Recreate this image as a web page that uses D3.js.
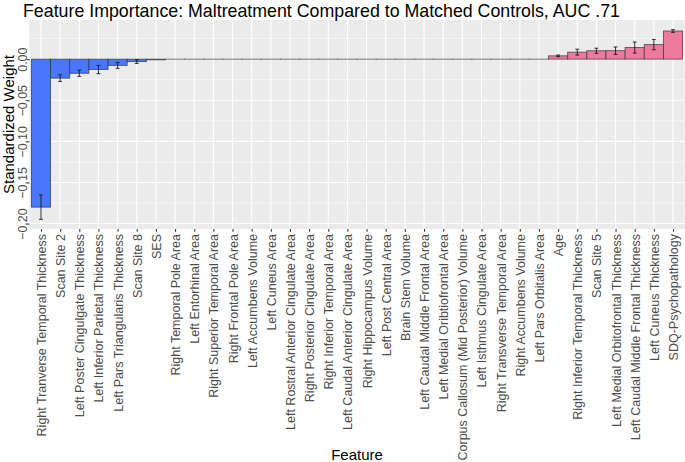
<!DOCTYPE html>
<html>
<head>
<meta charset="utf-8">
<script src="https://cdn.jsdelivr.net/npm/d3@7"></script>
<style>
  html, body { margin: 0; padding: 0; background: #fff; }
  svg { display: block; font-family: "Liberation Sans", Arial, sans-serif; }
</style>
</head>
<body>
<svg id="chart" width="685" height="462"></svg>
<script>
const features = [
  "Right Tranverse Temporal Thickness", "Scan Site 2", "Left Poster Cingulgate Thickness",
  "Left Inferior Parietal Thickness", "Left Pars Triangularis Thickness", "Scan Site 8", "SES",
  "Right Temporal Pole Area", "Left Entorhinal Area", "Right Superior Temporal Area",
  "Right Frontal Pole Area", "Left Accumbens Volume", "Left Cuneus Area",
  "Left Rostral Anterior Cingulate Area", "Right Posterior Cingulate Area",
  "Right Inferior Temporal Area", "Left Caudal Anterior Cingulate Area",
  "Right Hippocampus Volume", "Left Post Central Area", "Brain Stem Volume",
  "Left Caudal Middle Frontal Area", "Left Medial Oribtiofrontal Area",
  "Corpus Callosum (Mid Posterior) Volume", "Left Isthmus Cingulate Area",
  "Right Transverse Temporal Area", "Right Accumbens Volume", "Left Pars Orbitalis Area",
  "Age", "Right Inferior Temporal Thickness", "Scan Site 5",
  "Left Medial Orbitofrontal Thickness", "Left Caudal Middle Frontal Thickness",
  "Left Cuneus Thickness", "SDQ-Psychopathology"
];
const weights = [
  -0.180, -0.0231, -0.0172, -0.0126, -0.0076, -0.0030, -0.0008,
  0, 0, 0, 0, 0, 0, 0, 0, 0, 0, 0, 0, 0, 0, 0, 0, 0, 0, 0, 0,
  0.0040, 0.0085, 0.0102, 0.0103, 0.0141, 0.0177, 0.0342
];
const errors = [
  0.0148, 0.0040, 0.0038, 0.0050, 0.0036, 0.0022, 0,
  0, 0, 0, 0, 0, 0, 0, 0, 0, 0, 0, 0, 0, 0, 0, 0, 0, 0, 0, 0,
  0.0010, 0.0036, 0.0031, 0.0045, 0.0067, 0.0063, 0.0016
];
const yTicks = [-0.20, -0.15, -0.10, -0.05, 0.00];
const yMinor = [-0.175, -0.125, -0.075, -0.025, 0.025];

const title = "Feature Importance: Maltreatment Compared to Matched Controls, AUC .71";
const xTitle = "Feature";
const yTitle = "Standardized Weight";

const data = features.map((f, i) => ({ f, w: weights[i], e: errors[i] }));

const svg = d3.select("#chart");
const P = { left: 29.5, right: 684.5, top: 20, bottom: 229 };

const x = d3.scalePoint().domain(features).range([P.left, P.right]).padding(0.6);
const step = x.step();
const y = d3.scaleLinear().domain([-0.2066, 0.0476]).range([P.bottom, P.top]);

// panel
svg.append("rect").attr("x", P.left).attr("y", P.top)
  .attr("width", P.right - P.left).attr("height", P.bottom - P.top).attr("fill", "#EBEBEB");

// grid
const g = svg.append("g");
g.selectAll(".ymin").data(yMinor).join("line")
  .attr("x1", P.left).attr("x2", P.right)
  .attr("y1", d => y(d)).attr("y2", d => y(d))
  .attr("stroke", "#fff").attr("stroke-width", 0.55);
g.selectAll(".ymaj").data(yTicks).join("line")
  .attr("x1", P.left).attr("x2", P.right)
  .attr("y1", d => y(d)).attr("y2", d => y(d))
  .attr("stroke", "#fff").attr("stroke-width", 1.1);
g.selectAll(".xmaj").data(features).join("line")
  .attr("x1", d => x(d)).attr("x2", d => x(d))
  .attr("y1", P.top).attr("y2", P.bottom)
  .attr("stroke", "#fff").attr("stroke-width", 1.1);

// bars
const colorFor = w => w < 0 ? "#4876FF" : (w > 0 ? "#EE799F" : "#888");
svg.append("g").selectAll("rect").data(data).join("rect")
  .attr("x", d => x(d.f) - step / 2)
  .attr("width", step)
  .attr("y", d => Math.min(y(0), y(d.w)))
  .attr("height", d => Math.max(0.01, Math.abs(y(d.w) - y(0))))
  .attr("fill", d => colorFor(d.w))
  .attr("stroke", "#3a3a3a").attr("stroke-opacity", 0.8).attr("stroke-width", 0.9);

// error bars
const eb = svg.append("g").attr("stroke", "#1a1a1a").attr("stroke-width", 0.9);
const ed = data.filter(d => d.e > 0);
const cap = step * 0.1;
eb.selectAll(".v").data(ed).join("line")
  .attr("x1", d => x(d.f)).attr("x2", d => x(d.f))
  .attr("y1", d => y(d.w - d.e)).attr("y2", d => y(d.w + d.e));
eb.selectAll(".t").data(ed).join("line")
  .attr("x1", d => x(d.f) - cap).attr("x2", d => x(d.f) + cap)
  .attr("y1", d => y(d.w + d.e)).attr("y2", d => y(d.w + d.e));
eb.selectAll(".b").data(ed).join("line")
  .attr("x1", d => x(d.f) - cap).attr("x2", d => x(d.f) + cap)
  .attr("y1", d => y(d.w - d.e)).attr("y2", d => y(d.w - d.e));

// y axis
const yAxis = d3.axisLeft(y).tickValues(yTicks).tickFormat(d3.format(".2f")).tickSize(2.7).tickPadding(2);
const ya = svg.append("g").attr("transform", `translate(${P.left},0)`).call(yAxis);
ya.select(".domain").remove();
ya.selectAll(".tick line").attr("stroke", "#333").attr("stroke-width", 1.07);
ya.selectAll(".tick text")
  .attr("fill", "#4D4D4D").attr("font-size", "12.5px")
  .attr("text-anchor", "middle")
  .attr("transform", "translate(-2.5,0) rotate(-90)")
  .attr("x", 0).attr("y", 0).attr("dy", 0);

// x axis
const xAxis = d3.axisBottom(x).tickSize(2.7).tickPadding(2);
const xa = svg.append("g").attr("transform", `translate(0,${P.bottom})`).call(xAxis);
xa.select(".domain").remove();
xa.selectAll(".tick line").attr("stroke", "#333").attr("stroke-width", 1.07);
xa.selectAll(".tick text")
  .attr("fill", "#4D4D4D").attr("font-size", "12.5px")
  .attr("text-anchor", "end")
  .attr("transform", "translate(4.5,5) rotate(-90)")
  .attr("x", 0).attr("y", 0).attr("dy", 0);

// titles
svg.append("text").attr("x", 23).attr("y", 17)
  .attr("font-size", "17.8px").attr("fill", "#000").text(title);
svg.append("text").attr("x", (P.left + P.right) / 2).attr("y", 460)
  .attr("text-anchor", "middle").attr("font-size", "15px").attr("fill", "#000").text(xTitle);
svg.append("text").attr("transform", `translate(14,${(P.top + P.bottom) / 2}) rotate(-90)`)
  .attr("text-anchor", "middle").attr("font-size", "15px").attr("fill", "#000").text(yTitle);
</script>
</body>
</html>
